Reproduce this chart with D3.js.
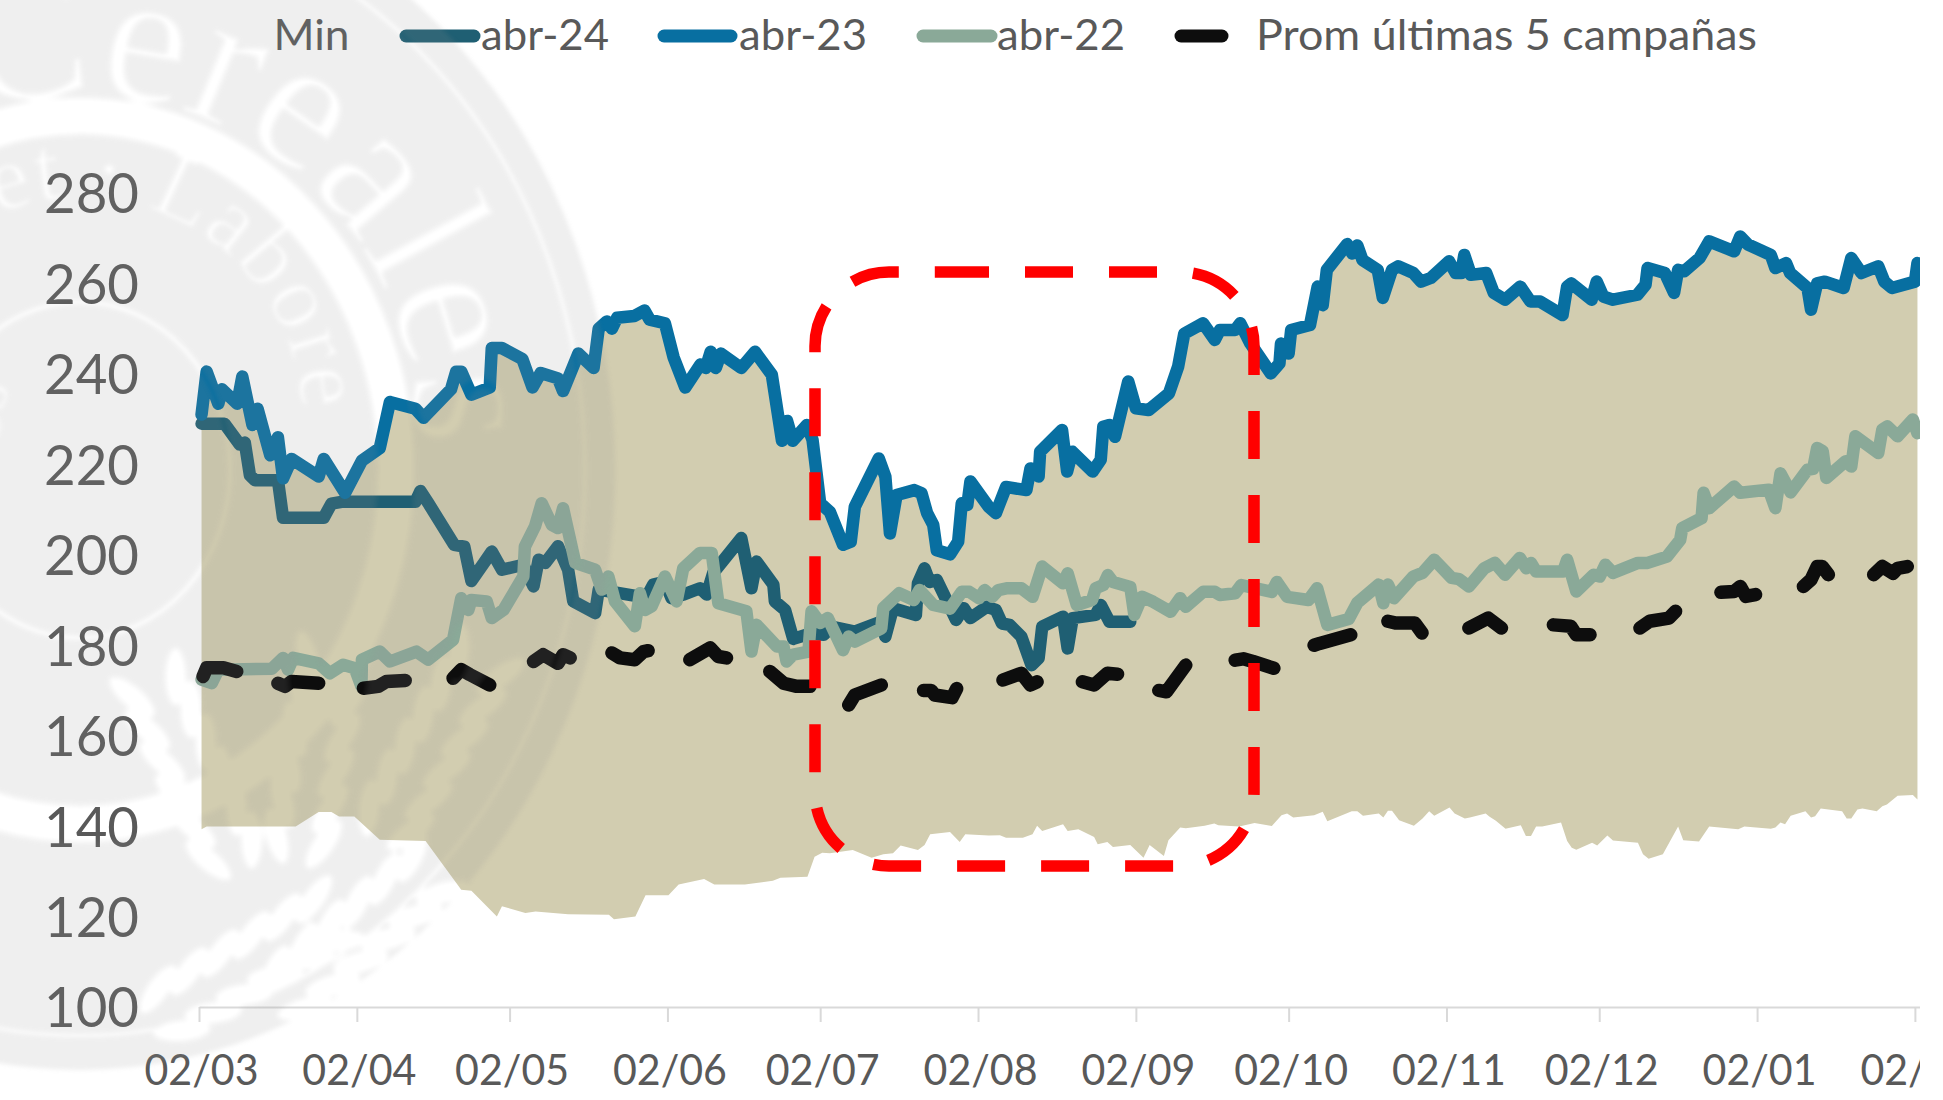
<!DOCTYPE html>
<html>
<head>
<meta charset="utf-8">
<script src="https://cdn.jsdelivr.net/npm/d3@7"></script>
<style>
  html, body { margin: 0; padding: 0; background: #fff; }
  svg { display: block; }
  text { font-family: Lato, "Open Sans", sans-serif; fill: #595959; }
</style>
</head>
<body>
<svg id="chart" width="1943" height="1100"></svg>
<script>
// Each pair is [days since 02/03, value]
const abr24 = [[0,229],[4.5,229],[7.5,224.4],[8.5,224.8],[9.5,217.6],[10.5,216.5],[15,216.5],[16,208.2],[24,208.2],[25.5,211.3],[27.5,211.7],[42,211.7],[43,214.1],[44.6,211.3],[49.6,202.2],[51.6,201.8],[53,194.2],[57,200.7],[59,196.7],[63.2,197.8],[65.2,193],[66.2,198.9],[67.5,198.2],[70,201.9],[72,196.7],[73,189.7],[77.3,187.1],[78,192.3],[85.8,190.8],[87,189.8],[88.7,193.4],[91,194],[92.3,190.4],[94.6,191.2],[97.9,192.6],[99.2,191.2],[100.5,196],[106,203.7],[108,192.6],[109,198.5],[112.3,193.4],[112.6,189.7],[114.6,187.8],[116.2,181.4],[119.6,182.6],[122.2,182.3],[123.7,184.1],[128.3,183],[133.5,185.2],[134.3,181.9],[135.8,188.2],[140.3,186.7],[140.7,193.7],[142,197],[143,194],[144.4,194.4],[148.2,185.6],[149.7,188.2],[151,186],[154.2,188.5],[156,187.8],[157.2,184.8],[158.7,184.5],[161,181.9],[163,175.6],[164.4,177.1],[165.1,184.1],[169.2,186.3],[170.1,179.3],[171.1,186],[175.6,186.7],[176.6,188.9],[178.3,185.2],[182.4,185.2]];

const abr23 = [[0,231],[1,240.5],[3.3,233.4],[4,236.6],[7,233.4],[8,239.4],[10,228.7],[11,232.3],[13.5,222],[15,226],[16,216.9],[17.7,221.2],[23,217.3],[24,221.2],[28.2,213.7],[31.5,220.8],[35,223.6],[37,233.8],[42,232.3],[43.6,230.3],[49,236.6],[50,240.5],[51,240.5],[53,235.4],[56.6,237],[57,245.7],[59,245.7],[63,243.3],[65,237],[66.6,240.2],[70,239],[71,236.2],[74,244.5],[77,241.3],[78,250],[79.6,251.6],[80.6,250],[81.6,252.4],[85,252.8],[87,254],[88,252],[91,251.2],[92.7,243.7],[95,237],[98,242.1],[99,241.3],[100,244.9],[101,241.3],[102,244.5],[106,241.3],[108.7,244.9],[112,239.8],[114,225.2],[115,229.6],[116.1,225.2],[118.9,228.7],[120,225.4],[121.5,211.4],[123.4,209.5],[126,202.2],[127.5,202.9],[128.3,210.6],[133,221.3],[134.3,217.3],[135.2,204.7],[136.5,213.2],[140,214.3],[141.4,213.6],[142.5,209.2],[143.7,206.6],[144.4,201],[147,200.1],[148.6,202.9],[149.3,211.4],[150.4,211],[151,216.2],[154.6,210.6],[156,209.2],[158,215],[162,214.3],[162.8,219.1],[164.4,217.3],[164.7,222.8],[169,227.6],[170,218.4],[171,222.8],[175,218.4],[176.6,221],[177.1,228.3],[178.3,228.7],[179.4,226.1],[182,238.3],[183.5,232.4],[186,232],[190,235.7],[191.8,241.6],[193,248.9],[196.7,251.2],[199,247.5],[200,249.7],[203,249.7],[204,251.2],[206,246.7],[210,240.1],[211.7,242.3],[212,246.7],[213.5,244.5],[214,249.7],[217.7,250.8],[219.2,259.3],[220.2,255.2],[221,263],[225,268.7],[226,266.6],[227,268.4],[228,265.2],[231,263],[232,256.8],[233.8,263],[235,263.8],[238,262.3],[239.5,260.4],[241.4,261.2],[245,264.9],[246.3,262.3],[247.4,262.3],[248,266.3],[249.3,261.9],[252.3,262.3],[253.8,257.9],[256,256.4],[259,259.3],[261,256],[262.9,256],[267.3,253],[268.2,259.3],[269,260],[273,256.4],[274,260.4],[275.3,257.1],[277.2,256.4],[282,257.5],[283.6,259.7],[284,263.4],[287.4,262.3],[289.2,257.9],[290,263],[291.2,262.7],[294.2,265.6],[296.1,269.3],[301,267.1],[302.2,270.4],[303.7,268.6],[308.2,266.3],[309.1,263.4],[311.2,264.5],[312,262.3],[315.4,259],[316.1,254.2],[317.3,260],[318.8,260.4],[322.5,259],[324,265.6],[326,262.3],[329.3,263.8],[330.5,260.4],[332,259],[336.5,260.4],[337,264.5]];

const abr22 = [[0,172.4],[2,171.6],[3.3,174.6],[13.8,174.8],[16,177.2],[17,174.6],[18,177.2],[23,176],[25.2,173.8],[27.8,175.7],[30.1,174.9],[31.4,170.9],[31.5,176.8],[35,178.6],[37,176.4],[42.2,178.6],[44.5,176.8],[49.4,181.2],[51,190.4],[52.4,187.8],[53,190],[56,189.7],[57,186],[59.3,187.8],[63.2,195.2],[63.5,201.8],[65.5,206.3],[66.8,211.4],[68.8,206.6],[70,205.9],[71,210.3],[73.4,198.2],[77.3,196.7],[78.6,192.3],[79.9,195.2],[81.2,189.7],[85.1,184.2],[86.1,191.5],[87.1,187.8],[88.4,188.6],[91,195.2],[93.3,189.7],[94.6,197],[97.9,200.4],[100.2,200.4],[101.5,189.3],[107,187.5],[108,178.6],[109,184.5],[113,179.7],[114.3,179.7],[114.9,176.4],[116.2,177.9],[119.2,178.6],[119.8,187.5],[121.5,184.9],[123,186],[126,178.9],[127.1,181.9],[128.3,180.8],[133.5,183.7],[133.9,188.2],[137,191.5],[139.9,190],[141,192.2],[143.7,188.9],[147,188.1],[149.3,191.8],[150.8,191.8],[152.7,190.4],[153.8,192.2],[155.3,190.7],[156.5,192.2],[158.3,192.6],[161,192.6],[163.2,190.7],[165.1,197.4],[169.2,193.7],[170.1,195.9],[171.9,188.9],[174.9,190],[175.6,192.6],[177.1,193.3],[178,195.5],[179,194],[182.4,192.9],[183.2,186.7],[184.7,190.7],[186.9,189.6],[190.3,187.4],[192.2,190.4],[193.3,188.5],[196.7,191.8],[199,191.8],[200,191.1],[203,191.5],[204.2,193.3],[210.2,191.8],[211.2,194],[213.2,190.7],[217.4,190],[219.1,192.6],[221.1,184.5],[225.3,185.8],[227,189.4],[231.2,193.4],[232.1,189.3],[233,193.4],[234.2,190.4],[238,195.2],[239.8,196],[242.1,198.9],[245.5,194.9],[247,194.6],[248.9,193],[251.9,197],[254,198.2],[256,195.6],[258.9,199.3],[260.2,197],[261.1,198.2],[262.1,196.3],[267.4,196.3],[268.2,198.9],[270,191.9],[273.4,195.6],[274.6,195.2],[275.7,197.8],[277.2,196],[282.1,198.2],[284,198.2],[287.8,199.6],[290.4,203.3],[290.8,205.9],[294.6,208.1],[295,213.7],[296.1,210.3],[301,215.1],[302.2,213.7],[307.8,214.4],[309.1,210.3],[310.1,218],[312.1,213.8],[315.4,218.8],[316.5,219],[317.3,223.6],[318.4,222.9],[319.1,217],[322.9,220.7],[324,219.5],[324.8,226.2],[329.3,222.5],[330.1,227.7],[331.1,228.4],[333.1,226.2],[336.1,229.9],[337,226.9]];

// Only the visible stretches of the dashed line can be read, null marks a gap
const prom5 = [[0.3,173.1],[1,175],[4.3,175],[6.9,174.2],null,
  [15,171.6],[16.4,170.9],[17.7,172],[23,171.6],null,
  [31.8,170.5],[34.7,170.9],[36.3,172],[40,172.2],null,
  [49.4,172.7],[51,174.6],[52.7,173.5],[56.6,171.2],null,
  [65.2,176.4],[67.1,177.9],[70,176],[71,177.9],[72.4,177.2],null,
  [80.6,178.3],[82.2,177.2],[85.1,176.8],[86.8,178.6],[87.7,178.8],null,
  [95.9,176.8],[99.9,179.4],[101.5,177.5],[103.1,177.2],null,
  [111.6,174.2],[114.3,171.6],[116.9,170.9],[119.5,170.9],null,
  [127.1,166.8],[128.3,169],[133.5,171.2],null,
  [141.8,170],[143.3,170],[144,169],[147.4,168.4],[148.3,170.4],null,
  [157.4,172.3],[161,173.8],[162.8,171.2],[164.1,171.9],null,
  [173,171.9],[175.3,171.2],[177.9,173.8],[179.9,173.6],null,
  [188,170],[189.5,169.7],[193.3,175.6],null,
  [203,176.7],[204.6,177],[206.5,176.4],[210.6,174.9],null,
  [218.5,180],[219.6,180.4],[225.7,182.3],null,
  [233,185.3],[234.6,184.9],[238.3,184.9],[239.7,182.7],null,
  [248.9,183.8],[252.7,186],[255.3,183.8],null,
  [265.5,184.5],[268.9,184.2],[270,182.3],[272.7,182.3],null,
  [282.5,183.8],[284.4,185.3],[288.2,186],[289.5,187.5],null,
  [298.4,191.7],[301,191.9],[302.2,193],[303.3,190.8],[305.2,191.2],null,
  [314.6,193],[316.1,194.5],[317.3,197.4],[318.3,197.4],[319.5,195.6],null,
  [328.4,195.6],[330.1,197.4],[332.2,195.9],[333.1,197],[335,197.4]];

const minimo = [[0,139.3],[1,139.9],[18.5,139.9],[23,143.1],[25.5,143.1],[27,142.1],[30,142.1],[35,137],[44,136.7],[51,125.9],[53,125.7],[58,120],[59,122.3],[63.6,120.8],[65.6,121.1],[72,120.5],[80,120.4],[81,119.4],[85.2,120],[87.2,124.7],[91.7,124.7],[93.7,127.1],[98.7,128.3],[100.7,127.1],[106.7,127.1],[112.2,127.9],[113.7,128.6],[119,128.8],[120.4,133.2],[121.9,134.1],[123.4,134],[127.9,134.7],[131.6,133],[133.9,133.8],[135.8,134],[137.3,135.7],[140.7,134.7],[142,135.8],[143.1,138.2],[147,138.7],[148.9,136.5],[150,138.2],[154.6,137.9],[156.8,138],[158,137.4],[161.3,137.4],[163.2,138.2],[164.1,140.1],[165.1,138.9],[169.2,140.4],[170.1,138.9],[172.2,139.3],[175.3,137.6],[176,136],[177.9,136.5],[179,135.4],[182.4,135.8],[185,133],[186.2,135.8],[189,133.4],[189.9,136.9],[192.2,139.7],[193.3,139.5],[197,140.1],[198.9,140.6],[199.7,140.2],[203.8,139.9],[206.8,140.7],[210.2,140],[212.1,142.4],[213.2,142.8],[214.4,141.9],[218.5,142.4],[220.2,143.2],[221.1,141.1],[225.9,143.3],[227,143.3],[228.1,142.3],[231.2,142.8],[232.1,141.9],[233,143.4],[233.8,143.4],[235.2,141.3],[238.1,140.1],[239.8,141.7],[241.1,143.3],[242.1,142.3],[245.1,144.1],[246.1,142.8],[248.1,141.7],[249.1,141.9],[252.2,142.8],[252.9,142.1],[254.2,141.2],[256.1,139.4],[259.1,140.2],[260.1,137.8],[261.1,137.8],[262.1,139.9],[263.3,139.9],[267,140.8],[268.2,136.7],[269.1,135.2],[270,134.8],[273.1,136.3],[274.1,135.7],[276.1,137.9],[277.2,136.8],[282.1,136.3],[283.1,133.8],[284.2,132.8],[287,133.8],[290,139.9],[291,136.9],[294.1,136.6],[296.1,139.9],[301.8,139.3],[303,139.9],[308.2,139.4],[309.1,139.7],[310.1,140.8],[311,140.4],[312.1,142.3],[315,143.3],[316.1,141.9],[316.9,142.2],[318,143.9],[322.2,143.3],[323.1,141.7],[324,141.7],[325.2,143.7],[326.2,143.9],[329,143.3],[330.1,144.4],[331,144.8],[333.1,146.7],[336.1,146.9],[337,145.9]];

const valoresY = [100,120,140,160,180,200,220,240,260,280];
const fechasX = ["2023-03-02","2023-04-02","2023-05-02","2023-06-02","2023-07-02","2023-08-02","2023-09-02","2023-10-02","2023-11-02","2023-12-02","2024-01-02","2024-02-02"];

const colores = { abr24: "#1f5f73", abr23: "#086fa1", abr22: "#8aa998", prom: "#0d0d0d", area: "#d2cdb0", rojo: "#ff0000" };

const svg = d3.select("#chart");
const inicio = Date.UTC(2023, 2, 2);
const DIA = 86400000;

const x = d3.scaleUtc().domain([new Date(inicio), new Date("2024-02-03")]).range([199, 1920]);
const y = d3.scaleLinear().domain([100, 280]).range([1007, 193]);

// points sit in the middle of their day, as on a date axis between tick marks
const linea = d3.line()
  .defined(d => d !== null)
  .x(d => x(new Date(inicio + (d[0] + 0.5) * DIA)))
  .y(d => y(d[1]));

const defs = svg.append("defs");
defs.append("clipPath").attr("id", "recorte")
  .append("rect").attr("x", 0).attr("y", 0).attr("width", 1920).attr("height", 1100);

const g = svg.append("g").attr("clip-path", "url(#recorte)");

// Band between abr-23 on top and the minimum below
g.append("path")
  .attr("d", linea(abr23) + "L" + linea(minimo.slice().reverse()).slice(1) + "Z")
  .attr("fill", colores.area);

// Axes
const ejeY = g.append("g").attr("transform", "translate(139,0)")
  .call(d3.axisLeft(y).tickValues(valoresY).tickSize(0).tickPadding(0));
ejeY.select(".domain").remove();
ejeY.selectAll("text")
  .style("font-size", "57px")
  .attr("dy", "0.35em")
  .attr("textLength", 95)
  .attr("lengthAdjust", "spacingAndGlyphs");

const ejeX = g.append("g").attr("transform", "translate(0,1007)")
  .call(d3.axisBottom(x)
    .tickValues(fechasX.map(f => new Date(f)))
    .tickFormat(d3.utcFormat("%d/%m"))
    .tickSize(15).tickSizeOuter(0).tickPadding(0));
ejeX.select(".domain").attr("stroke", "#d9d9d9").attr("stroke-width", 2);
ejeX.selectAll("line").attr("stroke", "#d9d9d9").attr("stroke-width", 2);
ejeX.selectAll("text")
  .style("font-size", "43px")
  .attr("x", 2)
  .attr("y", 78)
  .attr("dy", 0)
  .attr("textLength", 114)
  .attr("lengthAdjust", "spacingAndGlyphs");

// Lines
const series = [
  { datos: abr24, color: colores.abr24 },
  { datos: abr23, color: colores.abr23 },
  { datos: abr22, color: colores.abr22 },
  { datos: prom5, color: colores.prom }
];
series.forEach(s => {
  g.append("path")
    .attr("d", linea(s.datos))
    .attr("fill", "none")
    .attr("stroke", s.color)
    .attr("stroke-width", s.datos === prom5 ? 13.5 : 12.5)
    .attr("stroke-linejoin", "round")
    .attr("stroke-linecap", "round");
});

// Red dashed box, the path starts on the top edge so the dashes land where they should
const caja = { x0: 815, x1: 1254, y0: 272, y1: 866, r: 74 };
g.append("path")
  .attr("d", `M941,${caja.y0}H${caja.x1 - caja.r}A${caja.r},${caja.r} 0 0 1 ${caja.x1},${caja.y0 + caja.r}` +
    `V${caja.y1 - caja.r}A${caja.r},${caja.r} 0 0 1 ${caja.x1 - caja.r},${caja.y1}` +
    `H${caja.x0 + caja.r}A${caja.r},${caja.r} 0 0 1 ${caja.x0},${caja.y1 - caja.r}` +
    `V${caja.y0 + caja.r}A${caja.r},${caja.r} 0 0 1 ${caja.x0 + caja.r},${caja.y0}Z`)
  .attr("fill", "none")
  .attr("stroke", colores.rojo)
  .attr("stroke-width", 11.5)
  .attr("stroke-dasharray", "48 36");

// Legend
const leyendaTextos = [
  { texto: "Min", x: 273.5, largo: 76 },
  { texto: "abr-24", x: 481, largo: 128, color: colores.abr24, x0: 406, x1: 474 },
  { texto: "abr-23", x: 739, largo: 128, color: colores.abr23, x0: 664, x1: 731 },
  { texto: "abr-22", x: 997, largo: 128, color: colores.abr22, x0: 923, x1: 991 },
  { texto: "Prom últimas 5 campañas", x: 1256, largo: 501, color: colores.prom, x0: 1181, x1: 1222 }
];
leyendaTextos.forEach(l => {
  if (l.color) {
    g.append("line")
      .attr("x1", l.x0).attr("x2", l.x1).attr("y1", 36).attr("y2", 36)
      .attr("stroke", l.color).attr("stroke-width", 13).attr("stroke-linecap", "round");
  }
  g.append("text")
    .attr("x", l.x).attr("y", 50)
    .attr("textLength", l.largo)
    .attr("lengthAdjust", "spacingAndGlyphs")
    .style("font-size", "42px")
    .text(l.texto);
});

// Seal watermark: a grey veil over everything, with the letters and rings cut out by a mask.
// The seal image is stretched a bit in height in the reference, hence the ellipse rings.
const centro = { x: 80, y: 470 };
defs.append("filter").attr("id", "suave").append("feGaussianBlur").attr("stdDeviation", 2);
const mascara = defs.append("mask").attr("id", "sello")
  .attr("maskUnits", "userSpaceOnUse")
  .attr("x", 0).attr("y", 0).attr("width", 1943).attr("height", 1100);
const m = mascara.append("g").attr("filter", "url(#suave)");

function aro(r, grosor, color) {
  m.append("ellipse").attr("cx", centro.x).attr("cy", centro.y)
    .attr("rx", r).attr("ry", r * 1.12)
    .attr("fill", "none").attr("stroke", color).attr("stroke-width", grosor);
}
// whole seal, centre to rim
m.append("ellipse").attr("cx", centro.x).attr("cy", centro.y)
  .attr("rx", 535).attr("ry", 600).attr("fill", "#fff");
aro(505, 5, "#000");
aro(316, 40, "#000");    // pale band between the two lines of text
aro(150, 6, "#000");

function textoArco(id, cx, cy, r, inicioGrados, texto, tam, espacio) {
  const a = inicioGrados * Math.PI / 180;
  const x0 = cx + r * Math.cos(a), y0 = cy + r * Math.sin(a);
  const x1 = cx - r * Math.cos(a), y1 = cy - r * Math.sin(a);
  defs.append("path").attr("id", id)
    .attr("d", `M${x0},${y0}A${r},${r} 0 1 1 ${x1},${y1}A${r},${r} 0 1 1 ${x0},${y0}`);
  m.append("text")
    .style("font-family", "'Liberation Serif', serif")
    .style("font-size", tam + "px")
    .style("letter-spacing", espacio + "px")
    .style("fill", "#000")
    .append("textPath").attr("href", "#" + id).text(texto);
}
textoArco("arcoGrande", 80, 430, 335, -109, "Cereales", 190, 0);
textoArco("arcoChico", 80, 420, 222, -112, "et · Labore", 92, 2);
textoArco("arcoBajo", 80, 430, 80, 170, "es", 70, 0);

// Wheat sheaves in the lower part of the seal
function trigo(cx, cy, giro, color) {
  for (let i = 0; i < 6; i++) {
    [-1, 1].forEach(lado => {
      m.append("ellipse")
        .attr("cx", lado * 24).attr("cy", -i * 36).attr("rx", 12).attr("ry", 30)
        .attr("fill", color)
        .attr("transform", `translate(${cx},${cy}) rotate(${giro}) rotate(${lado * 25},${lado * 24},${-i * 36})`);
    });
  }
}
trigo(170, 1010, 60, "#000");
trigo(290, 990, 50, "#000");
trigo(300, 840, 10, "#000");
trigo(230, 850, -25, "#000");
trigo(390, 820, 30, "#000");

g.append("rect")
  .attr("x", 0).attr("y", 0).attr("width", 1920).attr("height", 1100)
  .attr("fill", "#949494")
  .attr("fill-opacity", 0.15)
  .attr("mask", "url(#sello)");
</script>
</body>
</html>
